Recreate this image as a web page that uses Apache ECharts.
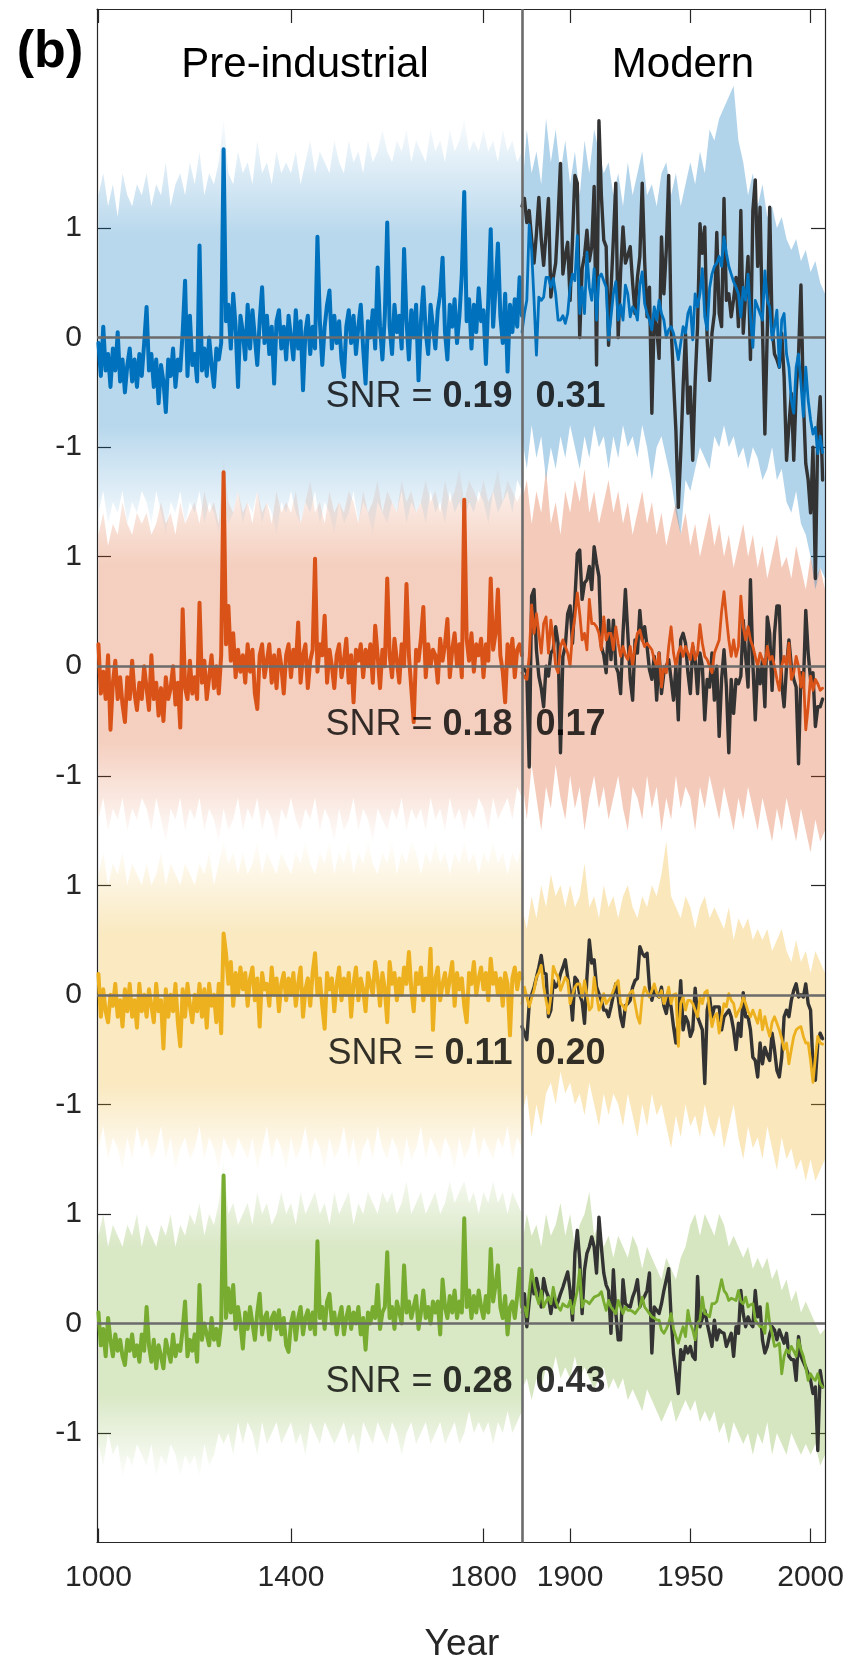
<!DOCTYPE html>
<html lang="en">
<head>
    <meta charset="UTF-8">
    <title>SNR panels</title>
    <style>html, body { margin: 0; background: #fff; }</style>
</head>
<script src="https://cdn.jsdelivr.net/npm/echarts@6/dist/echarts.min.js"></script>
<body>
<div id="main" style="width: 852px; height: 1668px"></div>
<script type="text/javascript">
    // pre-industrial: lines every 5 yr, bands every 10 yr; modern: lines annual, bands every 2 yr
    var preYears = [];
    for (var y = 1000; y <= 1880; y += 5) preYears.push(y);
    var preBandYears = [];
    for (var y = 1000; y <= 1880; y += 10) preBandYears.push(y);
    var modYears = [];
    for (var y = 1880; y <= 2005; y++) modYears.push(y);
    var modBandYears = [];
    for (var y = 1880; y <= 2006; y += 2) modBandYears.push(y);

    var preTicks = [1000, 1400, 1800];
    var modTicks = [1900, 1950, 2000];
    var snrPre = ['0.19', '0.18', '0.11', '0.28'];
    var snrModern = ['0.31', '0.17', '0.20', '0.43'];

    // ---- blue ----
    var bluePre = [
        -0.05, -0.35, 0.1, -0.3, -0.15, -0.45, -0.1, -0.3, 0.05, -0.4,
        -0.2, -0.5, -0.25, -0.1, -0.4, -0.2, -0.45, -0.15, -0.35, -0.05,
        0.28, -0.3, -0.15, -0.45, -0.2, -0.6, -0.25, -0.4, -0.68, -0.2,
        -0.35, -0.1, -0.45, -0.2, -0.3, 0.05, 0.52, -0.35, 0.2, -0.25,
        -0.15, -0.4, 0.84, -0.3, -0.1, -0.35, 0.0, -0.25, -0.45, -0.1,
        -0.2, -0.05, 1.72, 0.15, 0.3, -0.1, 0.4, 0.1, -0.45, 0.2,
        0.05, -0.2, 0.3, -0.1, 0.25, 0.0, -0.25, 0.15, 0.46, -0.05,
        0.2, -0.15, 0.1, -0.42, 0.15, 0.25, -0.1, 0.1, -0.2, 0.2,
        0.0, -0.2, 0.25, -0.1, 0.15, -0.48, 0.05, 0.2, -0.15, 0.1,
        -0.1, 0.92, 0.15, -0.25, 0.1, 0.3, 0.43, -0.1, 0.2, -0.05,
        0.15, -0.2, -0.36, 0.1, 0.25, -0.05, 0.2, -0.15, 0.1, 0.3,
        -0.1, -0.42, 0.15, 0.0, 0.25, -0.1, 0.64, 0.1, -0.2, 0.2,
        1.05, 0.1, -0.15, 0.3, 0.05, 0.2, -0.1, 0.81, 0.15, -0.2,
        0.25, 0.0, 0.3, -0.39, 0.15, 0.46, 0.05, -0.15, 0.3, 0.1,
        -0.1, 0.25, 0.4, 0.73, 0.05, -0.2, 0.3, 0.1, 0.35, -0.05,
        0.2, 0.58, 1.33, 0.15, 0.35, -0.1, 0.3, 0.05, 0.45, 0.15,
        0.25, -0.24, 0.35, 0.99, 0.1, 0.45, 0.86, 0.2, -0.05, 0.4,
        -0.31, 0.3, 0.05, 0.35, 0.1, 0.55, 0.2
    ];
    var bluePreUpper = [
        1.3, 1.5, 1.2, 1.4, 1.1, 1.5, 1.3, 1.2, 1.4, 1.3,
        1.5, 1.2, 1.4, 1.3, 1.6, 1.2, 1.4, 1.5, 1.3, 1.6,
        1.4, 1.7, 1.3, 1.5, 1.4, 1.6, 2.0, 1.5, 1.4, 1.7,
        1.5, 1.6, 1.4, 1.8, 1.5, 1.6, 1.4, 1.7, 1.5, 1.6,
        1.5, 1.7, 1.4, 1.6, 1.8, 1.5, 1.7, 1.6, 1.5, 1.8,
        1.6, 1.5, 1.8, 1.6, 1.7, 1.5, 1.8, 1.6, 1.7, 1.9,
        1.7, 1.6, 1.8, 1.7, 1.9, 1.6, 1.8, 1.7, 1.6, 1.9,
        1.7, 1.8, 1.6, 1.9, 1.7, 1.8, 2.0, 1.7, 1.8, 1.7,
        1.9, 1.7, 1.8, 1.6, 1.9, 1.7, 1.8, 1.6, 1.7
    ];
    var bluePreLower = [
        -1.6, -1.4, -1.7, -1.5, -1.6, -1.4, -1.7, -1.5, -1.6, -1.4,
        -1.5, -1.7, -1.4, -1.6, -1.8, -1.5, -1.6, -1.4, -1.7, -1.5,
        -1.6, -1.4, -1.7, -1.5, -1.6, -1.8, -1.5, -1.7, -1.6, -1.4,
        -1.7, -1.5, -1.6, -1.4, -1.7, -1.5, -1.6, -1.8, -1.5, -1.6,
        -1.4, -1.6, -1.7, -1.5, -1.6, -1.4, -1.7, -1.5, -1.6, -1.8,
        -1.5, -1.7, -1.6, -1.4, -1.7, -1.5, -1.6, -1.8, -1.5, -1.6,
        -1.7, -1.5, -1.6, -1.4, -1.7, -1.5, -1.6, -1.5, -1.7, -1.4,
        -1.6, -1.5, -1.7, -1.4, -1.6, -1.5, -1.7, -1.5, -1.6, -1.4,
        -1.5, -1.7, -1.4, -1.6, -1.5, -1.4, -1.6, -1.3, -1.4
    ];
    var blueMod = [
        0.05, 0.22, 0.34, 1.03, 0.8, 0.34, -0.16, 0.37, 0.34, 0.37,
        0.55, 0.55, 0.46, 0.54, 0.4, 0.16, 0.16, 0.2, 0.13, 0.22,
        0.46, 0.58, 0.52, 0.93, 0.22, 0.46, 0.22, 0.78, 0.46, 0.34,
        0.63, 0.16, 0.55, 0.58, 0.52, 0.46, -0.02, 0.19, 0.4, 0.51,
        0.16, 0.3, 0.16, 0.48, 0.4, 0.19, 0.28, 0.25, 0.16, 0.48,
        0.6, 0.31, 0.22, 0.16, 0.07, 0.28, 0.16, 0.34, 0.22, 0.16,
        0.0, 0.07, 0.1, 0.04, -0.07, -0.2, -0.05, 0.1, 0.04, 0.22,
        0.28, -0.02, 0.4, 0.28, 0.4, 0.63, 0.19, 0.07, 0.45, 0.58,
        0.65, 0.68, 0.74, 0.65, 0.92, 0.77, 0.65, 0.58, 0.51, 0.46,
        0.4, 0.19, 0.46, 0.34, 0.58, 0.19, -0.09, 0.34, 0.28, 0.22,
        0.16, 0.61, 0.34, 0.28, -0.02, 0.1, 0.25, -0.27, 0.16, 0.22,
        -0.15, -0.27, -0.57, -0.69, -0.27, -0.15, -0.42, -0.72, -0.27, -0.57,
        -0.75, -0.88, -0.82, -1.06, -0.9, -1.05
    ];
    var blueObs = [
        1.2, 1.27, 1.05, 1.16, 0.9, 0.68, 0.95, 1.28, 0.9, 0.66,
        0.95, 1.27, 0.37, 0.55, 0.68, 1.1, 1.59, 0.58, 0.75, 0.87,
        0.34, 0.9, 1.48, 1.41, 0.0, 0.63, 0.75, 0.98, 0.7, 0.83,
        1.38, -0.25, 1.98, 1.3, 0.89, 0.83, -0.07, 0.43, 0.9, 1.41,
        0.0, 0.6, 1.01, 0.68, 0.75, 0.83, 0.5, 0.22, 0.55, 0.74,
        1.41, 0.7, 0.19, 0.46, -0.69, 0.22, 0.1, -0.19, 0.92, 0.4,
        0.8, 1.48, 0.1, -0.39, -0.85, -1.55, -1.06, -0.45, 0.04, -0.69,
        -0.45, -1.12, -0.4, 0.1, 1.04, 0.77, 1.01, -0.02, -0.39, 0.04,
        0.22, 0.96, 0.22, 0.1, 1.27, 0.34, 0.4, 0.19, 0.35, 0.55,
        0.1, 1.16, 0.04, 0.4, 0.74, -0.2, 1.16, 1.44, 0.65, 1.19,
        0.1, -0.88, 0.07, 1.19, 0.1, -0.15, -0.2, -0.27, 0.04, -0.36,
        -1.12, -0.8, -0.51, -1.12, -0.5, -0.15, 0.48, -0.57, -1.15, -1.3,
        -1.6, -1.0, -2.2, -0.85, -0.54, -1.3
    ];
    var blueModUpper = [
        1.3, 1.9, 1.5, 1.7, 1.4, 2.0, 1.6, 1.9, 1.5, 1.8,
        1.4, 1.7, 1.3, 1.8, 1.5, 1.9, 1.7, 1.5, 1.6, 1.3,
        1.5, 1.2, 1.6, 1.3, 1.5, 1.7, 1.3, 1.4, 1.2, 1.5,
        1.6, 1.3, 1.5, 1.2, 1.4, 1.6, 1.4, 1.7, 1.5, 1.9,
        1.8, 2.0, 2.1, 2.2, 2.3, 1.8, 1.6, 1.3, 1.5, 1.2,
        1.4, 1.1, 1.2, 1.0, 1.1, 0.9, 0.8, 0.9, 0.7, 0.8,
        0.6, 0.7, 0.5, 0.4
    ];
    var blueModLower = [
        -0.9, -1.2, -0.8, -1.1, -0.9, -1.3, -1.0, -1.2, -0.9, -1.1,
        -0.8, -1.0, -1.2, -0.9, -1.1, -0.8, -1.0, -0.9, -1.2, -0.9,
        -1.1, -0.8, -1.0, -0.9, -1.1, -0.8, -1.0, -1.3, -1.0, -0.9,
        -1.1, -1.3, -1.6, -1.8, -1.3, -1.4, -1.2, -1.0, -1.1, -1.2,
        -0.9, -1.0, -0.8, -1.0, -0.9, -1.1, -1.0, -1.2, -1.0, -1.1,
        -1.3, -1.2, -1.0, -1.3, -1.2, -1.5, -1.6, -1.4, -1.7, -1.8,
        -2.0, -2.3, -2.1, -2.2
    ];

    // ---- red ----
    var redPre = [
        0.2, -0.25, -0.05, -0.3, 0.1, -0.58, -0.15, 0.05, -0.3, -0.1,
        -0.35, -0.51, -0.1, -0.3, 0.05, -0.25, -0.4, -0.15, -0.3, 0.0,
        -0.2, -0.4, 0.1, -0.3, -0.15, -0.45, -0.2, -0.5, -0.1, -0.3,
        -0.2, 0.0, -0.35, -0.15, -0.56, 0.52, -0.2, -0.3, 0.05, -0.25,
        -0.1, -0.3, 0.58, -0.15, 0.05, -0.3, -0.1, 0.1, -0.2, 0.0,
        -0.25, 0.1, 1.77, 0.2, 0.55, 0.05, 0.3, -0.1, 0.15, -0.05,
        0.1, -0.15, 0.2, -0.05, 0.15, -0.25, -0.39, 0.1, 0.2, -0.1,
        0.05, 0.2, -0.15, 0.1, -0.2, 0.15, 0.0, -0.25, 0.1, 0.2,
        -0.1, 0.15, 0.0, 0.4, -0.15, 0.1, 0.2, -0.2, 0.05, 0.15,
        0.98, -0.05, 0.2, 0.1, 0.46, -0.15, 0.15, 0.0, -0.2, 0.1,
        0.2, -0.1, 0.05, 0.25, -0.15, 0.1, -0.33, 0.15, 0.05, 0.2,
        -0.1, 0.15, 0.0, 0.2, -0.15, 0.37, 0.1, -0.2, 0.15, 0.0,
        0.8, 0.1, -0.1, 0.25, 0.05, -0.15, 0.2, 0.0, 0.75, 0.1,
        -0.2, -0.51, 0.15, 0.05, 0.25, 0.54, -0.1, 0.2, 0.0, 0.15,
        0.1, -0.15, 0.25, 0.05, 0.2, 0.43, -0.1, 0.15, 0.3, 0.0,
        0.2, -0.1, 1.52, 0.25, 0.05, 0.3, -0.05, 0.2, 0.1, 0.25,
        -0.1, 0.2, 0.05, 0.8, 0.15, 0.3, 0.7, 0.1, -0.05, -0.33,
        0.2, 0.0, 0.25, -0.1, 0.15, 0.2, 0.1
    ];
    var redPreUpper = [
        1.2, 1.4, 1.1, 1.3, 1.2, 1.5, 1.3, 1.2, 1.4, 1.3,
        1.4, 1.2, 1.3, 1.5, 1.3, 1.4, 1.2, 1.5, 1.3, 1.4,
        1.5, 1.3, 1.6, 1.4, 1.5, 1.3, 1.9, 1.5, 1.4, 1.6,
        1.4, 1.5, 1.3, 1.6, 1.4, 1.5, 1.3, 1.6, 1.4, 1.5,
        1.4, 1.6, 1.3, 1.5, 1.7, 1.4, 1.5, 1.3, 1.6, 1.4,
        1.5, 1.4, 1.6, 1.5, 1.3, 1.6, 1.4, 1.5, 1.7, 1.4,
        1.6, 1.5, 1.4, 1.7, 1.5, 1.6, 1.4, 1.5, 1.7, 1.5,
        1.6, 1.4, 1.7, 1.5, 1.6, 1.8, 1.5, 1.7, 1.6, 1.5,
        1.7, 1.5, 1.6, 1.8, 1.5, 1.7, 1.6, 1.5, 1.6
    ];
    var redPreLower = [
        -1.4, -1.2, -1.5, -1.3, -1.4, -1.2, -1.5, -1.3, -1.4, -1.2,
        -1.3, -1.5, -1.2, -1.4, -1.6, -1.3, -1.4, -1.2, -1.5, -1.3,
        -1.4, -1.2, -1.5, -1.3, -1.4, -1.6, -1.3, -1.5, -1.4, -1.2,
        -1.5, -1.3, -1.4, -1.2, -1.5, -1.3, -1.4, -1.6, -1.3, -1.4,
        -1.2, -1.4, -1.5, -1.3, -1.4, -1.2, -1.5, -1.3, -1.4, -1.6,
        -1.3, -1.5, -1.4, -1.2, -1.5, -1.3, -1.4, -1.6, -1.3, -1.4,
        -1.5, -1.3, -1.4, -1.2, -1.5, -1.3, -1.4, -1.3, -1.5, -1.2,
        -1.4, -1.3, -1.5, -1.2, -1.4, -1.3, -1.5, -1.3, -1.4, -1.2,
        -1.3, -1.5, -1.2, -1.4, -1.3, -1.2, -1.4, -1.1, -1.2
    ];
    var redMod = [
        -0.06, -0.1, -0.12, 0.09, 0.56, 0.3, 0.48, 0.3, 0.12, 0.39,
        0.45, 0.12, 0.42, 0.24, 0.0, -0.06, 0.18, 0.24, 0.18, 0.12,
        0.0, 0.3, 0.45, 0.67, 0.48, 0.24, 0.3, 0.15, 0.61, 0.39,
        0.39, 0.36, 0.3, 0.15, 0.45, 0.24, 0.3, 0.3, 0.15, 0.36,
        0.21, 0.09, 0.18, 0.1, 0.06, 0.18, 0.0, 0.18, 0.3, 0.33,
        0.24, 0.18, 0.21, 0.18, 0.15, 0.06, 0.0, 0.12, -0.19, 0.0,
        -0.06, 0.18, 0.36, 0.12, 0.0, 0.12, 0.18, 0.09, 0.18, 0.12,
        0.06, 0.21, 0.06, 0.12, 0.38, 0.21, 0.09, 0.06, 0.0, -0.06,
        0.12, 0.18, 0.24, 0.5, 0.68, 0.45, 0.24, 0.09, 0.24, 0.09,
        0.18, 0.64, 0.36, 0.24, 0.36, 0.24, 0.18, 0.09, 0.0, 0.12,
        0.06, 0.0, 0.18, 0.06, 0.09, 0.0, -0.12, -0.22, 0.0, 0.09,
        0.0, 0.21, -0.12, -0.06, 0.09, 0.0, -0.19, -0.06, -0.58, -0.37,
        -0.09, -0.22, -0.12, -0.16, -0.22, -0.2
    ];
    var redObs = [
        0.0, -0.03, -0.06, -0.92, 0.64, 0.7, 0.15, -0.09, -0.2, -0.37,
        0.0, -0.09, 0.12, 0.15, 0.36, 0.21, -0.79, 0.09, 0.18, 0.48,
        0.55, 0.21, 0.61, 1.03, 1.06, 0.61, 0.76, 0.79, 0.91, 0.7,
        1.09, 0.94, 0.82, 0.18, 0.1, -0.06, 0.42, 0.06, 0.42, 0.0,
        -0.06, -0.25, 0.3, 0.7, 0.3, -0.12, -0.31, 0.24, 0.12, 0.51,
        0.24, 0.36, 0.18, -0.03, -0.12, 0.09, -0.31, 0.12, -0.25, -0.06,
        0.0, 0.06, -0.12, -0.31, 0.0, -0.49, 0.24, 0.3, 0.21, -0.06,
        -0.25, 0.18, 0.06, -0.25, 0.12, 0.0, -0.49, -0.12, -0.19, 0.12,
        -0.31, 0.0, -0.64, -0.12, 0.15, -0.19, -0.79, -0.12, -0.43, -0.12,
        -0.16, -0.09, 0.42, 0.09, -0.19, 0.79, 0.03, -0.49, 0.0, -0.16,
        0.06, -0.37, 0.45, 0.3, -0.22, 0.3, 0.55, 0.55, -0.16, -0.37,
        0.0, 0.24, 0.0, -0.12, -0.19, -0.89, -0.06, -0.19, 0.51, 0.12,
        -0.12, -0.06, -0.55, -0.37, -0.37, -0.3
    ];
    var redModUpper = [
        1.5, 1.7, 1.3, 1.6, 1.4, 1.8, 1.3, 1.5, 1.2, 1.6,
        1.4, 1.7, 1.5, 1.8, 1.4, 1.6, 1.3, 1.5, 1.7, 1.4,
        1.6, 1.3, 1.5, 1.2, 1.4, 1.6, 1.3, 1.5, 1.2, 1.4,
        1.1, 1.3, 1.5, 1.2, 1.4, 1.1, 1.3, 1.0, 1.2, 1.4,
        1.1, 1.3, 1.0, 1.2, 0.9, 1.1, 1.3, 1.0, 1.2, 0.9,
        1.1, 0.8, 1.0, 1.2, 0.9, 1.0, 0.8, 1.1, 0.9, 0.7,
        1.0, 0.8, 0.9, 0.7
    ];
    var redModLower = [
        -1.0, -1.4, -0.9, -1.2, -1.5, -1.1, -1.3, -0.9, -1.2, -1.4,
        -1.0, -1.3, -1.1, -1.5, -1.2, -1.0, -1.3, -1.1, -1.4, -1.2,
        -1.0, -1.3, -1.5, -1.1, -1.2, -1.4, -1.0, -1.3, -1.1, -1.5,
        -1.2, -1.4, -1.0, -1.3, -1.1, -1.2, -1.5, -1.1, -1.3, -1.0,
        -1.2, -1.4, -1.1, -1.3, -1.5, -1.2, -1.4, -1.1, -1.3, -1.5,
        -1.2, -1.4, -1.6, -1.3, -1.5, -1.2, -1.4, -1.6, -1.3, -1.5,
        -1.7, -1.4, -1.6, -1.5
    ];

    // ---- yellow ----
    var yellowPre = [
        0.19, -0.2, 0.05, -0.15, -0.25, 0.0, -0.1, 0.1, -0.2, -0.05,
        -0.29, 0.05, -0.15, 0.1, -0.2, -0.05, -0.3, 0.1, -0.15, 0.0,
        -0.2, 0.05, -0.1, -0.25, 0.1, -0.15, -0.05, -0.49, 0.05, -0.2,
        0.0, -0.15, 0.1, -0.25, -0.47, 0.05, -0.2, 0.1, -0.1, -0.25,
        0.0, -0.15, 0.1, -0.2, 0.05, -0.3, 0.1, -0.1, 0.0, -0.25,
        0.1, -0.35, 0.56, 0.38, 0.1, 0.3, -0.1, 0.2, 0.0, 0.25,
        0.05, 0.2, -0.1, 0.15, 0.25, -0.05, 0.15, -0.29, 0.2, 0.05,
        0.1, -0.1, 0.25, 0.0, 0.15, -0.15, 0.1, 0.2, -0.05, 0.15,
        0.0, 0.2, -0.1, 0.1, 0.25, -0.2, 0.05, 0.15, -0.1, 0.2,
        0.38, 0.0, 0.15, -0.1, -0.31, 0.2, 0.05, 0.15, -0.15, 0.1,
        0.25, -0.05, 0.15, 0.0, 0.2, -0.2, 0.1, 0.25, -0.05, 0.15,
        0.05, -0.15, 0.2, 0.1, 0.0, 0.3, 0.15, -0.1, 0.2, 0.05,
        -0.25, 0.3, 0.1, 0.2, -0.05, 0.15, 0.0, 0.25, 0.1, 0.39,
        0.05, -0.15, 0.2, 0.1, 0.25, -0.05, 0.15, 0.0, 0.42, -0.32,
        0.15, 0.25, -0.05, 0.1, 0.2, 0.0, 0.15, 0.3, -0.1, 0.2,
        0.05, 0.15, -0.1, -0.25, 0.2, 0.1, 0.3, 0.0, 0.15, 0.25,
        0.05, 0.2, -0.05, 0.33, 0.1, 0.2, 0.0, 0.15, -0.1, 0.2,
        0.1, -0.37, 0.15, 0.25, 0.05, 0.2, 0.15
    ];
    var yellowPreUpper = [
        1.1, 1.3, 1.0, 1.2, 1.1, 1.3, 1.0, 1.2, 1.1, 1.0,
        1.2, 1.0, 1.1, 1.3, 1.0, 1.2, 1.1, 1.0, 1.2, 1.1,
        1.0, 1.2, 1.1, 1.3, 1.0, 1.2, 1.4, 1.2, 1.3, 1.1,
        1.3, 1.1, 1.2, 1.4, 1.1, 1.3, 1.2, 1.1, 1.3, 1.2,
        1.1, 1.3, 1.2, 1.4, 1.2, 1.1, 1.3, 1.2, 1.4, 1.1,
        1.3, 1.2, 1.4, 1.1, 1.3, 1.2, 1.4, 1.2, 1.1, 1.3,
        1.2, 1.4, 1.1, 1.3, 1.2, 1.4, 1.3, 1.1, 1.3, 1.2,
        1.4, 1.2, 1.3, 1.1, 1.3, 1.2, 1.4, 1.2, 1.3, 1.1,
        1.3, 1.2, 1.4, 1.2, 1.3, 1.1, 1.3, 1.2, 1.4
    ];
    var yellowPreLower = [
        -1.4, -1.2, -1.5, -1.3, -1.4, -1.6, -1.3, -1.5, -1.2, -1.4,
        -1.3, -1.5, -1.4, -1.2, -1.5, -1.3, -1.6, -1.4, -1.3, -1.5,
        -1.4, -1.2, -1.5, -1.3, -1.4, -1.6, -1.3, -1.4, -1.5, -1.3,
        -1.4, -1.5, -1.3, -1.6, -1.4, -1.2, -1.5, -1.3, -1.4, -1.6,
        -1.3, -1.5, -1.4, -1.2, -1.5, -1.3, -1.4, -1.6, -1.3, -1.5,
        -1.4, -1.2, -1.5, -1.3, -1.6, -1.4, -1.3, -1.5, -1.2, -1.4,
        -1.5, -1.3, -1.4, -1.6, -1.3, -1.5, -1.4, -1.2, -1.5, -1.3,
        -1.4, -1.5, -1.3, -1.4, -1.6, -1.3, -1.5, -1.4, -1.2, -1.5,
        -1.3, -1.4, -1.5, -1.3, -1.4, -1.2, -1.5, -1.3, -1.4
    ];
    var yellowMod = [
        -0.08, 0.07, -0.02, -0.11, -0.03, 0.04, 0.16, 0.2, 0.27, 0.07,
        -0.05, -0.17, -0.02, 0.26, 0.2, 0.16, 0.04, 0.1, 0.16, 0.13,
        -0.08, 0.0, 0.07, 0.1, 0.1, -0.02, 0.13, 0.0, -0.14, -0.11,
        0.16, 0.0, -0.14, -0.08, 0.01, -0.08, -0.05, -0.02, 0.04, 0.1,
        0.13, -0.08, -0.1, -0.14, -0.02, 0.02, 0.04, -0.08, -0.2, -0.26,
        -0.02, 0.07, 0.02, -0.02, 0.04, 0.1, 0.02, -0.02, 0.04, -0.08,
        -0.02, 0.07, -0.08, 0.0, 0.01, -0.47, -0.08, -0.02, -0.14, -0.05,
        -0.05, -0.08, -0.14, -0.2, -0.02, -0.08, 0.02, 0.04, -0.14, -0.29,
        -0.2, -0.17, -0.35, -0.2, -0.08, -0.11, 0.01, -0.05, -0.08, -0.2,
        -0.15, -0.11, -0.02, -0.08, -0.15, -0.2, -0.14, -0.2, -0.26, -0.14,
        -0.32, -0.2, -0.3, -0.38, -0.25, -0.2, -0.26, -0.32, -0.4, -0.5,
        -0.44, -0.63, -0.5, -0.38, -0.32, -0.3, -0.29, -0.38, -0.44, -0.44,
        -0.6, -0.8, -0.57, -0.38, -0.44, -0.45
    ];
    var yellowObs = [
        -0.29, -0.35, -0.41, -0.08, 0.0, 0.07, 0.16, 0.25, 0.36, 0.2,
        0.19, -0.2, -0.14, 0.13, 0.07, 0.1, 0.19, 0.25, 0.32, 0.16,
        0.04, -0.23, 0.16, 0.13, 0.0, -0.06, -0.26, 0.16, 0.5, 0.29,
        0.32, 0.07, 0.01, -0.05, -0.14, -0.14, -0.2, -0.11, 0.0, 0.1,
        -0.02, -0.2, -0.29, -0.1, -0.08, -0.05, 0.07, 0.13, 0.15, 0.44,
        0.38, 0.35, 0.38, 0.07, -0.05, 0.04, 0.0, -0.02, 0.07, -0.1,
        -0.17, -0.02, -0.11, -0.29, -0.44, -0.23, 0.13, -0.32, -0.2, -0.25,
        -0.38, -0.32, 0.06, -0.2, -0.26, -0.32, -0.81, -0.14, -0.02, -0.2,
        -0.11, -0.11, -0.11, -0.32, -0.2, -0.17, -0.14, -0.2, -0.32, -0.5,
        -0.26, -0.38, 0.02, -0.2, -0.2, -0.32, -0.57, -0.6, -0.75, -0.44,
        -0.63, -0.48, -0.55, -0.6, -0.35, -0.5, -0.69, -0.75, -0.57, -0.2,
        -0.14, -0.2, -0.05, 0.04, 0.1, -0.02, 0.0, -0.02, 0.1, -0.08,
        -0.14, -0.65, -0.78, -0.44, -0.35, -0.4
    ];
    var yellowModUpper = [
        0.8, 0.6, 0.9, 0.7, 1.0, 0.8, 1.1, 0.9, 1.0, 0.8,
        1.0, 0.8, 0.9, 1.2, 0.8, 0.9, 0.7, 1.0, 0.8, 0.9,
        0.7, 0.9, 1.0, 0.8, 0.7, 0.9, 0.8, 1.0, 0.9, 1.1,
        1.4, 0.9, 0.8, 0.7, 0.9, 0.8, 0.6, 0.8, 0.9, 0.7,
        0.8, 0.7, 0.6, 0.8, 0.5, 0.7, 0.6, 0.7, 0.5, 0.6,
        0.5, 0.6, 0.4, 0.5, 0.6, 0.4, 0.3, 0.5, 0.3, 0.4,
        0.2, 0.4, 0.3, 0.2
    ];
    var yellowModLower = [
        -1.1, -0.9, -1.3, -1.0, -1.2, -0.9, -0.8, -1.0, -0.7, -0.9,
        -0.8, -1.0, -0.9, -1.1, -0.8, -1.0, -1.2, -0.9, -1.1, -0.9,
        -1.0, -1.2, -0.9, -1.1, -1.3, -1.0, -1.2, -0.9, -1.1, -1.0,
        -1.2, -1.4, -1.1, -1.3, -1.0, -1.2, -1.1, -1.3, -1.0, -1.2,
        -1.3, -1.1, -1.4, -1.2, -1.0, -1.3, -1.5, -1.2, -1.4, -1.3,
        -1.5, -1.2, -1.4, -1.6, -1.3, -1.5, -1.4, -1.6, -1.5, -1.7,
        -1.5, -1.7, -1.6, -1.5
    ];

    // ---- green ----
    var greenPre = [
        0.1, -0.2, -0.05, -0.3, 0.05, -0.15, -0.3, -0.1, -0.25, -0.15,
        -0.3, -0.38, -0.15, -0.25, -0.1, -0.3, -0.2, -0.35, -0.1, -0.25,
        0.15, -0.2, -0.35, -0.15, -0.41, -0.2, -0.3, -0.41, -0.15, -0.25,
        -0.35, -0.1, -0.3, -0.2, -0.25, -0.05, 0.2, -0.3, -0.15, -0.25,
        -0.1, -0.35, 0.35, -0.15, 0.0, -0.1, -0.2, 0.05, -0.15, -0.05,
        -0.2, 0.0, 1.35, 0.05, 0.32, 0.1, 0.35, -0.05, 0.15, 0.0,
        -0.23, 0.1, -0.05, 0.15, 0.0, -0.15, 0.1, 0.27, -0.1, 0.05,
        0.1, -0.15, 0.05, 0.1, -0.05, 0.12, -0.1, 0.05, -0.2, -0.26,
        0.0, 0.1, -0.15, 0.05, 0.15, -0.1, 0.05, 0.12, -0.05, 0.1,
        -0.1, 0.75, 0.05, 0.15, -0.05, 0.2, 0.27, 0.0, 0.1, -0.1,
        0.05, 0.15, -0.1, 0.05, 0.15, -0.05, 0.1, 0.0, 0.15, -0.1,
        0.05, -0.24, 0.1, 0.0, 0.15, 0.05, 0.35, -0.05, 0.1, 0.15,
        0.65, 0.05, 0.15, -0.05, 0.2, 0.1, 0.0, 0.53, 0.1, 0.2,
        0.05, 0.15, 0.25, -0.05, 0.1, 0.3, 0.05, 0.15, 0.0, 0.2,
        0.1, 0.2, -0.1, 0.4, 0.15, 0.05, 0.25, 0.1, 0.3, 0.05,
        0.2, 0.1, 0.96, 0.15, 0.3, 0.05, 0.25, 0.1, 0.3, 0.15,
        0.05, 0.25, 0.1, 0.68, 0.2, 0.35, 0.53, 0.15, 0.05, 0.25,
        -0.1, 0.15, 0.2, 0.05, 0.25, 0.5, 0.15
    ];
    var greenPreUpper = [
        0.8, 1.0, 0.7, 0.9, 0.8, 0.7, 0.9, 0.8, 1.0, 0.7,
        0.9, 0.8, 0.7, 0.9, 0.8, 1.0, 0.7, 0.9, 0.8, 1.0,
        0.9, 1.1, 0.8, 1.0, 0.9, 1.1, 1.5, 1.0, 1.1, 0.9,
        1.0, 1.1, 0.9, 1.2, 1.0, 1.1, 0.9, 1.0, 1.2, 1.0,
        1.1, 0.9, 1.2, 1.0, 1.1, 1.2, 1.0, 1.1, 0.9, 1.2,
        1.0, 1.1, 1.2, 0.9, 1.1, 1.0, 1.2, 1.1, 1.0, 1.2,
        1.1, 1.2, 1.0, 1.1, 1.3, 1.0, 1.1, 1.2, 1.0, 1.1,
        1.2, 1.0, 1.1, 1.3, 1.1, 1.2, 1.3, 1.1, 1.2, 1.0,
        1.2, 1.1, 1.3, 1.1, 1.2, 1.0, 1.2, 1.1, 1.0
    ];
    var greenPreLower = [
        -1.1, -1.3, -1.0, -1.2, -1.1, -1.4, -1.2, -1.3, -1.1, -1.2,
        -1.3, -1.1, -1.4, -1.2, -1.3, -1.1, -1.2, -1.4, -1.2, -1.3,
        -1.2, -1.4, -1.1, -1.3, -1.2, -1.0, -1.1, -1.0, -1.2, -0.9,
        -1.1, -0.9, -1.0, -1.2, -0.9, -1.1, -1.0, -0.9, -1.1, -1.0,
        -0.9, -1.1, -1.0, -1.2, -0.9, -1.0, -1.1, -0.9, -1.0, -1.1,
        -1.0, -0.9, -1.1, -1.0, -1.2, -0.9, -1.0, -1.1, -0.9, -1.0,
        -1.1, -0.9, -1.0, -1.2, -1.0, -0.9, -1.1, -1.0, -0.9, -1.1,
        -1.0, -0.9, -1.1, -1.0, -0.9, -1.1, -1.0, -0.8, -1.0, -0.9,
        -1.0, -0.9, -1.1, -0.9, -1.0, -0.8, -1.0, -0.9, -0.8
    ];
    var greenMod = [
        0.1, 0.15, 0.06, 0.3, 0.49, 0.37, 0.25, 0.18, 0.3, 0.15,
        0.2, 0.24, 0.18, 0.33, 0.21, 0.15, 0.12, 0.18, 0.16, 0.15,
        0.21, 0.09, 0.2, 0.3, 0.49, 0.15, 0.21, 0.2, 0.18, 0.21,
        0.24, 0.25, 0.26, 0.29, 0.2, 0.12, 0.21, 0.15, 0.12, 0.09,
        0.21, 0.15, 0.09, 0.15, 0.12, 0.12, 0.11, 0.09, 0.12, 0.15,
        0.24, 0.15, 0.12, 0.09, 0.06, 0.05, 0.03, 0.03, -0.06, -0.09,
        -0.05, 0.0, 0.09, -0.05, -0.12, -0.18, -0.1, -0.03, -0.12, 0.12,
        0.0, -0.06, -0.15, 0.0, 0.03, 0.24, 0.09, 0.08, 0.06, 0.18,
        0.18, 0.2, 0.3, 0.4, 0.3, 0.27, 0.21, 0.23, 0.22, 0.21,
        0.3, 0.2, 0.18, 0.24, 0.15, 0.17, 0.18, 0.03, 0.0, -0.03,
        -0.03, -0.09, 0.18, 0.0, -0.09, -0.21, -0.2, -0.18, -0.46, -0.3,
        -0.24, -0.27, -0.21, -0.25, -0.3, -0.15, -0.24, -0.3, -0.4, -0.52,
        -0.46, -0.5, -0.52, -0.46, -0.55, -0.58
    ];
    var greenObs = [
        0.24, 0.27, -0.03, 0.2, 0.4, 0.27, 0.41, 0.3, 0.15, 0.41,
        0.3, 0.24, 0.09, 0.24, 0.15, 0.2, 0.27, 0.33, 0.4, 0.47,
        0.3, 0.03, 0.64, 0.85, 0.58, 0.09, 0.49, 0.64, 0.7, 0.79,
        0.7, 0.46, 0.97, 0.7, 0.46, 0.35, 0.3, -0.09, 0.49, 0.1,
        -0.15, -0.15, 0.4, 0.18, 0.16, 0.15, 0.24, 0.3, 0.4, 0.15,
        0.21, 0.25, 0.3, 0.46, -0.27, 0.15, 0.12, 0.09, 0.18, 0.3,
        0.4, 0.5, 0.06, -0.27, -0.45, -0.64, -0.24, -0.33, -0.21, -0.27,
        -0.21, -0.3, -0.33, 0.43, -0.03, 0.05, 0.12, 0.0, -0.1, -0.21,
        0.03, -0.15, -0.06, -0.08, -0.09, -0.21, -0.15, -0.09, -0.3, -0.03,
        -0.09, 0.3, 0.09, -0.03, 0.06, 0.0, -0.03, 0.3, 0.06, 0.15,
        -0.15, -0.27, -0.21, -0.1, -0.03, -0.06, -0.15, -0.06, -0.12, -0.18,
        -0.09, -0.3, -0.33, -0.33, -0.52, -0.12, -0.3, -0.35, -0.4, -0.46,
        -0.52, -0.64, -0.58, -1.16, -0.43, -0.58
    ];
    var greenModUpper = [
        0.7, 1.0, 0.8, 0.9, 0.7, 1.0, 0.8, 0.9, 1.1, 0.8,
        1.0, 0.7, 0.9, 1.0, 1.2, 0.8, 0.9, 0.7, 0.8, 0.6,
        0.8, 0.7, 0.6, 0.8, 0.7, 0.5, 0.7, 0.6, 0.5, 0.4,
        0.6, 0.5, 0.4, 0.6, 0.7, 0.9, 1.0, 0.8, 1.0, 0.9,
        0.8, 1.0, 0.9, 0.7, 0.8, 0.7, 0.6, 0.7, 0.5, 0.6,
        0.5, 0.6, 0.4, 0.5, 0.3, 0.4, 0.2, 0.3, 0.1, 0.2,
        0.1, 0.0, -0.1, -0.05
    ];
    var greenModLower = [
        -0.6, -0.5, -0.7, -0.5, -0.6, -0.4, -0.5, -0.3, -0.5, -0.4,
        -0.5, -0.3, -0.5, -0.4, -0.5, -0.6, -0.5, -0.4, -0.6, -0.5,
        -0.6, -0.5, -0.7, -0.6, -0.7, -0.8, -0.6, -0.7, -0.8, -0.9,
        -0.8, -0.7, -0.9, -0.8, -0.7, -0.8, -0.7, -0.9, -0.8, -0.9,
        -0.8, -1.0, -0.9, -1.1, -0.9, -1.0, -1.1, -1.0, -1.2, -1.0,
        -1.1, -0.9, -1.2, -1.0, -1.1, -1.2, -1.0, -1.1, -1.2, -1.1,
        -1.2, -1.1, -1.3, -1.2
    ];

    // panel layout (vertical offset on the shared y axis) and colours
    var panels = [
        {off: 9, color: '#0072BD', pre: bluePre, preUp: bluePreUpper, preLo: bluePreLower,
            mod: blueMod, obs: blueObs, modUp: blueModUpper, modLo: blueModLower},
        {off: 6, color: '#D95319', pre: redPre, preUp: redPreUpper, preLo: redPreLower,
            mod: redMod, obs: redObs, modUp: redModUpper, modLo: redModLower},
        {off: 3, color: '#EDB120', pre: yellowPre, preUp: yellowPreUpper, preLo: yellowPreLower,
            mod: yellowMod, obs: yellowObs, modUp: yellowModUpper, modLo: yellowModLower},
        {off: 0, color: '#77AC30', pre: greenPre, preUp: greenPreUpper, preLo: greenPreLower,
            mod: greenMod, obs: greenObs, modUp: greenModUpper, modLo: greenModLower}
    ];

    var FONT = '"Liberation Sans", Arial, Helvetica, sans-serif';
    var AX = '#262626';
    var GRAY = '#6b6b6b';
    var OBS = '#333333';
    var SNR_Y = -0.54;

    function rgba(hex, a) {
        var n = parseInt(hex.slice(1), 16);
        return 'rgba(' + (n >> 16) + ',' + ((n >> 8) & 255) + ',' + (n & 255) + ',' + a + ')';
    }

    // shaded range as one polygon through the axes (upper edge forward, lower edge back)
    function band(xs, lo, up, off, xi, yi, fill) {
        var n = Math.min(xs.length, lo.length, up.length);
        return {
            type: 'custom', coordinateSystem: 'cartesian2d', xAxisIndex: xi, yAxisIndex: yi,
            silent: true, data: [[xs[0], off]],
            renderItem: function (params, api) {
                var pts = [];
                for (var i = 0; i < n; i++) pts.push(api.coord([xs[i], up[i] + off]));
                for (var i = n - 1; i >= 0; i--) pts.push(api.coord([xs[i], lo[i] + off]));
                return {type: 'polygon', shape: {points: pts}, style: {fill: fill, stroke: null}};
            }
        };
    }

    function fade(hex) {
        return new echarts.graphic.LinearGradient(0, 0, 0, 1, [
            {offset: 0, color: rgba(hex, 0.02)},
            {offset: 0.28, color: rgba(hex, 0.28)},
            {offset: 0.74, color: rgba(hex, 0.28)},
            {offset: 1, color: rgba(hex, 0.02)}
        ]);
    }

    // one series line; custom polyline so the stroke width is exactly what is asked for
    function trace(xs, vs, off, xi, yi, color, width) {
        var n = Math.min(xs.length, vs.length);
        return {
            type: 'custom', coordinateSystem: 'cartesian2d', xAxisIndex: xi, yAxisIndex: yi,
            silent: true, data: [[xs[0], off]],
            renderItem: function (params, api) {
                var pts = [];
                for (var i = 0; i < n; i++) pts.push(api.coord([xs[i], vs[i] + off]));
                return {
                    type: 'polyline', shape: {points: pts},
                    style: {stroke: color, lineWidth: width, fill: null, lineJoin: 'round', lineCap: 'round'}
                };
            }
        };
    }

    var series = [];
    // bands, bottom panel first so blue ends up on top
    for (var k = panels.length - 1; k >= 0; k--) {
        var p = panels[k];
        series.push(band(preBandYears, p.preLo, p.preUp, p.off, 0, 0, fade(p.color)));
        series.push(band(modBandYears, p.modLo, p.modUp, p.off, 2, 1, rgba(p.color, 0.3)));
    }
    for (var k = panels.length - 1; k >= 0; k--) {
        var p = panels[k];
        series.push(trace(modYears, p.obs, p.off, 2, 1, OBS, 3.4));
        series.push(trace(modYears, p.mod, p.off, 2, 1, p.color, 2.8));
        series.push(trace(preYears, p.pre, p.off, 0, 0, p.color, 4));
    }

    var zeroLines = panels.map(function (p) { return {yAxis: p.off}; });
    var mlStyle = {color: GRAY, width: 2.6, type: 'solid'};
    series.push({
        type: 'line', xAxisIndex: 0, yAxisIndex: 0, data: [], silent: true,
        markLine: {symbol: ['none', 'none'], silent: true, label: {show: false}, lineStyle: mlStyle, data: zeroLines}
    });
    series.push({
        type: 'line', xAxisIndex: 2, yAxisIndex: 1, data: [], silent: true,
        markLine: {
            symbol: ['none', 'none'], silent: true, label: {show: false}, lineStyle: mlStyle,
            data: zeroLines.concat([{xAxis: 1880}])
        }
    });

    // SNR labels either side of the break
    var rich = {b: {fontWeight: 'bold', fontSize: 36, fontFamily: FONT, color: '#000'}};
    panels.forEach(function (p, i) {
        series.push({
            type: 'scatter', xAxisIndex: 0, yAxisIndex: 0, clip: false, silent: true, z: 10,
            symbolSize: 1, itemStyle: {color: 'rgba(0,0,0,0)'},
            data: [[1880, p.off + SNR_Y]],
            label: {
                show: true, position: 'left', distance: 9, color: '#000', fontSize: 36, fontFamily: FONT,
                formatter: 'SNR = {b|' + snrPre[i] + '}', rich: rich
            }
        });
        series.push({
            type: 'scatter', xAxisIndex: 2, yAxisIndex: 1, clip: false, silent: true, z: 10,
            symbolSize: 1, itemStyle: {color: 'rgba(0,0,0,0)'},
            data: [[1880, p.off + SNR_Y]],
            label: {
                show: true, position: 'right', distance: 13, color: '#000',
                formatter: '{b|' + snrModern[i] + '}', rich: rich
            }
        });
    });

    var yTicks = [];
    panels.slice().reverse().forEach(function (p) { yTicks.push(p.off - 1, p.off, p.off + 1); });

    function xAxis(grid, min, max, ticks, pos, labels) {
        return {
            type: 'value', gridIndex: grid, min: min, max: max, position: pos,
            axisLine: {show: true, onZero: false, lineStyle: {color: AX, width: 1.2}},
            axisTick: {show: true, inside: true, length: 14, customValues: ticks, lineStyle: {color: AX, width: 1.2}},
            axisLabel: {
                show: labels, customValues: ticks, margin: 20, fontSize: 30, fontFamily: FONT, color: AX,
                formatter: function (v) { return String(v); }
            },
            splitLine: {show: false}
        };
    }

    function yAxis(grid, pos, labels) {
        return {
            type: 'value', gridIndex: grid, min: -2, max: 12, position: pos,
            axisLine: {show: true, onZero: false, lineStyle: {color: AX, width: 1.2}},
            axisTick: {show: true, inside: true, length: 14, customValues: yTicks, lineStyle: {color: AX, width: 1.2}},
            axisLabel: {
                show: labels, customValues: yTicks, margin: 15, fontSize: 30, fontFamily: FONT, color: AX,
                formatter: function (v) { return String(Math.round(v - 3 * Math.round(v / 3))); }
            },
            splitLine: {show: false}
        };
    }

    var myChart = echarts.init(document.getElementById('main'), null, {renderer: 'canvas'});
    myChart.setOption({
        animation: false,
        backgroundColor: '#fff',
        grid: [
            {left: 97, top: 9, width: 425, height: 1533.5, outerBoundsMode: 'none', containLabel: false},
            {left: 522, top: 9, width: 303, height: 1533.5, outerBoundsMode: 'none', containLabel: false}
        ],
        xAxis: [
            xAxis(0, 997, 1880, preTicks, 'bottom', true),
            xAxis(0, 997, 1880, preTicks, 'top', false),
            xAxis(1, 1880, 2006, modTicks, 'bottom', true),
            xAxis(1, 1880, 2006, modTicks, 'top', false)
        ],
        yAxis: [yAxis(0, 'left', true), yAxis(1, 'right', false)],
        graphic: [
            {type: 'text', x: 50, y: 53, z: 100, style: {text: '(b)', fontSize: 52, fontWeight: 'bold', fontFamily: FONT, fill: '#000', align: 'center', verticalAlign: 'middle'}},
            {type: 'text', x: 305, y: 65, z: 100, style: {text: 'Pre-industrial', fontSize: 42, fontFamily: FONT, fill: '#000', align: 'center', verticalAlign: 'middle'}},
            {type: 'text', x: 683, y: 65, z: 100, style: {text: 'Modern', fontSize: 42, fontFamily: FONT, fill: '#000', align: 'center', verticalAlign: 'middle'}},
            {type: 'text', x: 462, y: 1645, z: 100, style: {text: 'Year', fontSize: 37, fontFamily: FONT, fill: AX, align: 'center', verticalAlign: 'middle'}}
        ],
        series: series
    });
</script>
</body>
</html>
